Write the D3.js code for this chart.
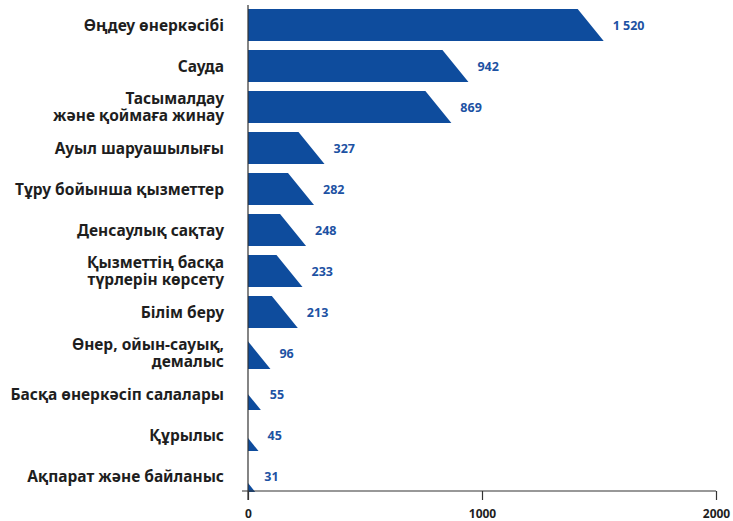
<!DOCTYPE html>
<html><head><meta charset="utf-8">
<script src="https://cdn.jsdelivr.net/npm/d3@7"></script>
<style>body{margin:0;background:#fff;}svg{display:block;font-family:"Noto Sans",sans-serif;}</style>
</head><body>
<svg id="c" width="733" height="521"></svg>
<script>
const categories = [
  ["Өңдеу өнеркәсібі"],
  ["Сауда"],
  ["Тасымалдау", "және қоймаға жинау"],
  ["Ауыл шаруашылығы"],
  ["Тұру бойынша қызметтер"],
  ["Денсаулық сақтау"],
  ["Қызметтің басқа", "түрлерін көрсету"],
  ["Білім беру"],
  ["Өнер, ойын-сауық,", "демалыс"],
  ["Басқа өнеркәсіп салалары"],
  ["Құрылыс"],
  ["Ақпарат және байланыс"]
];
const values = [1520, 942, 869, 327, 282, 248, 233, 213, 96, 55, 45, 31];
const valueLabels = ["1 520", "942", "869", "327", "282", "248", "233", "213", "96", "55", "45", "31"];
const xTicks = [0, 1000, 2000];

const svg = d3.select("#c");
const x = d3.scaleLinear().domain([0, 2000]).range([248, 716]);
const keys = categories.map((c, i) => i);
const y = d3.scaleBand().domain(keys).range([4.5, 496.5]).paddingInner(0.22).paddingOuter(0.11);
const blue = "#0e4c9d";
const slant = 26;
const h = y.bandwidth();

// bars
keys.forEach(i => {
  const x0 = x(0), xv = x(values[i]);
  const top = y(i), bot = top + h;
  const xt = xv - slant;
  let pts;
  if (xt >= x0) {
    pts = [[x0, top], [xt, top], [xv, bot], [x0, bot]];
  } else {
    const yc = top + (x0 - xt) / slant * h;
    pts = [[x0, yc], [xv, bot], [x0, bot]];
  }
  svg.append("path").attr("d", d3.line()(pts) + "Z").attr("fill", blue);
  svg.append("text").attr("x", xv + 9).attr("y", top + h / 2 + 4.5)
    .attr("fill", "#1d52a3").attr("font-size", 12.5).attr("font-weight", 700)
    .text(valueLabels[i]);
});

// category labels
keys.forEach(i => {
  const lines = categories[i];
  const cy = y(i) + h / 2;
  const lh = 17;
  const t = svg.append("text").attr("text-anchor", "end").attr("fill", "#1e1e1e")
    .attr("font-size", 15.5).attr("font-weight", 700);
  lines.forEach((ln, j) => {
    t.append("tspan").attr("x", 224)
      .attr("y", cy + 5.5 + (j - (lines.length - 1) / 2) * lh).text(ln);
  });
});

// axes
svg.append("line").attr("x1", x(0)).attr("x2", x(0)).attr("y1", 5).attr("y2", 500)
  .attr("stroke", "#333").attr("stroke-width", 1.2);
const ax = svg.append("g").attr("transform", "translate(0,491)")
  .call(d3.axisBottom(x).tickValues(xTicks).tickFormat(d3.format("d")).tickSize(9).tickPadding(9));
ax.select(".domain").remove();
svg.append("line").attr("x1", 242).attr("x2", 716).attr("y1", 491).attr("y2", 491)
  .attr("stroke", "#333").attr("stroke-width", 1.2);
ax.selectAll(".tick line").attr("stroke", "#333").attr("stroke-width", 1.2);
ax.selectAll(".tick text").attr("fill", "#1e1e1e").attr("font-size", 12).attr("font-weight", 700)
  .attr("font-family", "Noto Sans, sans-serif");
</script>
</body></html>
